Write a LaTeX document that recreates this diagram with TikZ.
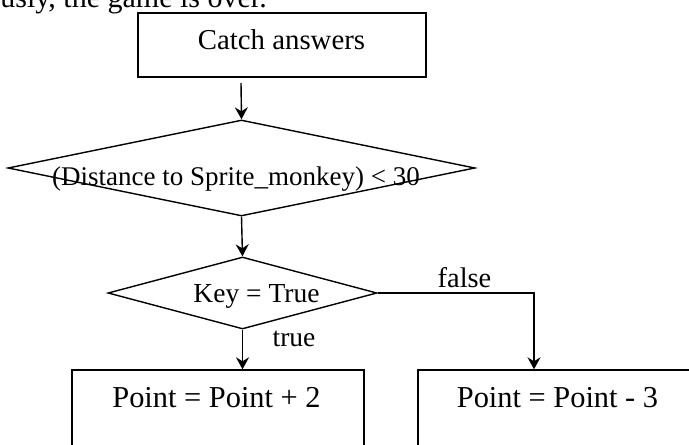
\documentclass[tikz,border=0pt]{standalone}
\usepackage{fontspec}
\setmainfont{Liberation Serif}
\usetikzlibrary{shapes.geometric,arrows.meta}

\begin{document}
\begin{tikzpicture}[x=0.5pt,y=-0.5pt,
  every node/.style={font=\fontsize{13.75}{16}\selectfont},
  flowline/.style={line width=0.7pt},
  arr/.style={flowline,-{Stealth[length=6pt,width=6.5pt,inset=2pt]}},
  procbox/.style={draw,line width=0.7pt,rectangle,inner sep=0pt},
  decision/.style={draw,line width=0.7pt,diamond,inner sep=0pt},
  lbl/.style={anchor=base,inner sep=0pt},
  big/.style={font=\fontsize{15.2}{18}\selectfont}]
  \useasboundingbox (0,0) rectangle (689,444);
  \clip (0,0) rectangle (689,444);

  % tail of the preceding sentence
  \node[anchor=base west,inner sep=0pt,font=\fontsize{15}{18}\selectfont] (intro) at (0,8) {usly, the game is over.};

  % blocks
  \node[procbox,minimum width=144pt,minimum height=32pt] (catch) at (282,45) {};
  \node[lbl,font=\fontsize{14.4}{17}\selectfont] (catchtxt) at (281.5,50) {Catch answers};

  \node[decision,minimum width=233.5pt,minimum height=48pt] (dist) at (241.5,168) {};
  \node[lbl,font=\fontsize{13.5}{16}\selectfont] (disttxt) at (236,185) {(Distance to Sprite\_monkey) < 30};

  \node[decision,minimum width=134.5pt,minimum height=36pt] (key) at (242.5,293) {};
  \node[lbl] (keytxt) at (256.5,302) {Key = True};

  \node[procbox,minimum width=146pt,minimum height=50pt] (plus) at (218,420) {};
  \node[lbl,big] (plustxt) at (216.5,407) {Point = Point + 2};

  \node[procbox,minimum width=139pt,minimum height=50pt] (minus) at (557,420) {};
  \node[lbl,big] (minustxt) at (557.5,407) {Point = Point - 3};

  % connectors
  \coordinate (catchout) at (241,83);
  \draw[arr] (catchout) -- (dist.north);
  \draw[arr] (dist.south) -- (key.north);
  \draw[arr] (key.south) -- (key.south |- plus.north);
  \coordinate (bend) at (534,293);
  \draw[arr] (key.east) -- (bend) -- (bend |- minus.north);

  % branch labels
  \node[lbl] (truelbl) at (294,346) {true};
  \node[lbl,font=\fontsize{14.2}{17}\selectfont] (falselbl) at (464.5,287) {false};
\end{tikzpicture}
\end{document}
